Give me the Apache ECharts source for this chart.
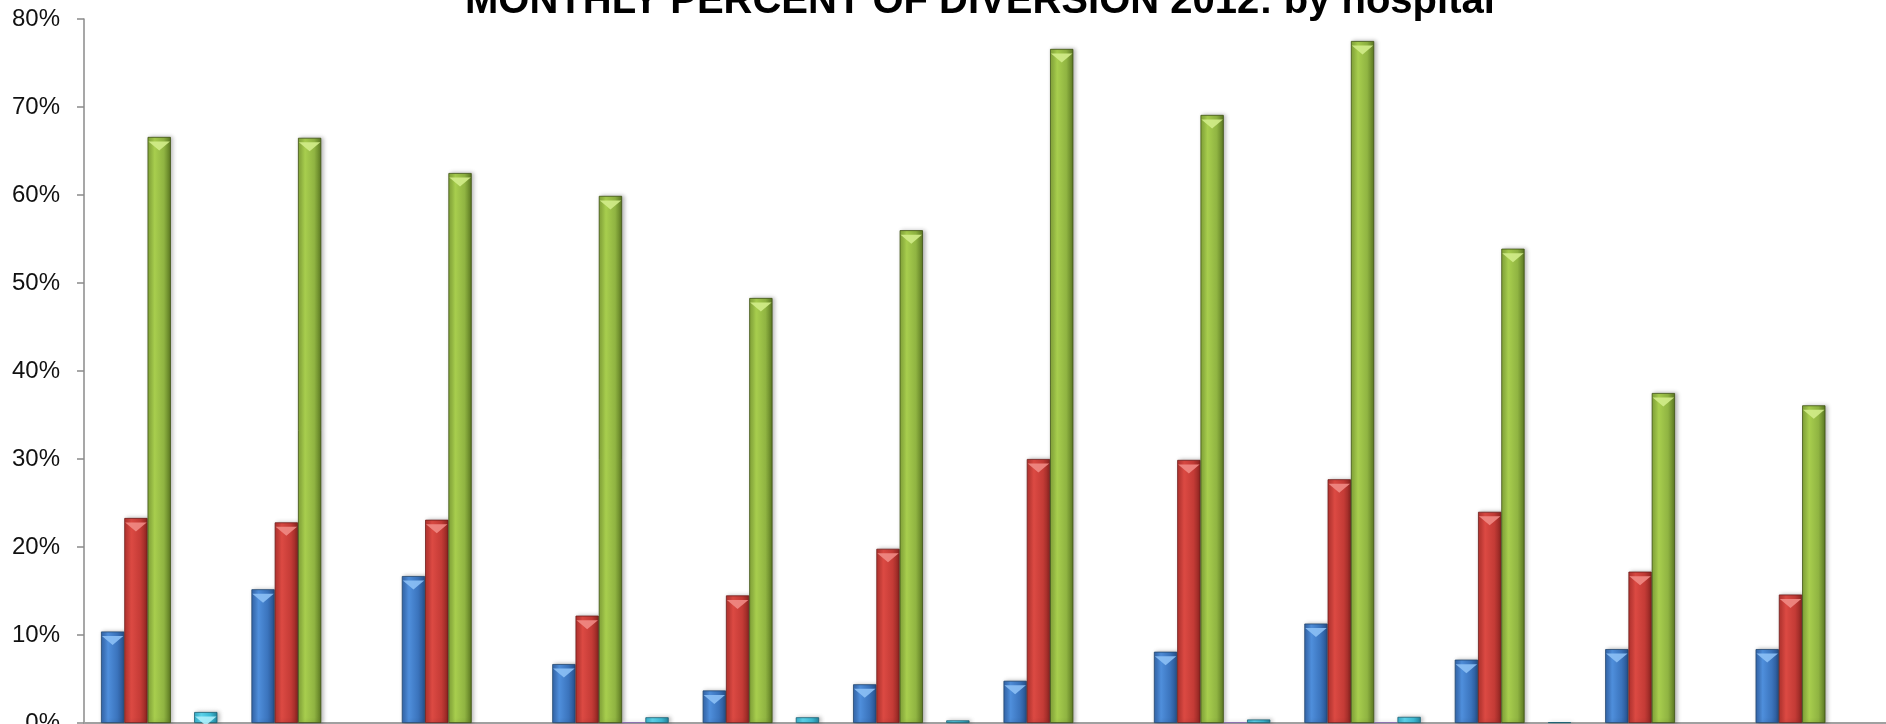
<!DOCTYPE html>
<html>
<head>
<meta charset="utf-8">
<script src="https://cdn.jsdelivr.net/npm/echarts@6/dist/echarts.min.js"></script>
<style>
  html, body { margin: 0; padding: 0; background: #ffffff; }
  #chart { width: 1886px; height: 724px; }
</style>
</head>
<body>
<div id="chart"></div>
<script>
// ---- data (percent) ----
const months = ['Jan', 'Feb', 'Mar', 'Apr', 'May', 'Jun', 'Jul', 'Aug', 'Sep', 'Oct', 'Nov', 'Dec'];
const seriesNames = ['Hospital 1', 'Hospital 2', 'Hospital 3', 'Hospital 4', 'Hospital 5'];
const hospital1 = [10.4, 15.2, 16.7, 6.7, 3.7, 4.4, 4.8, 8.1, 11.3, 7.2, 8.4, 8.4];
const hospital2 = [23.3, 22.8, 23.1, 12.2, 14.5, 19.8, 30.0, 29.9, 27.7, 24.0, 17.2, 14.6];
const hospital3 = [66.6, 66.5, 62.5, 59.9, 48.3, 56.0, 76.6, 69.1, 77.5, 53.9, 37.5, 36.1];
const hospital4 = [0, 0, 0, 0.1, 0, 0, 0, 0.1, 0.1, 0, 0, 0];
const hospital5 = [1.25, 0, 0, 0.65, 0.65, 0.3, 0, 0.4, 0.7, 0.1, 0, 0];
const yTicks = ['0%', '10%', '20%', '30%', '40%', '50%', '60%', '70%', '80%'];

const allData = [hospital1, hospital2, hospital3, hospital4, hospital5];

// bevel-like horizontal gradients
const palettes = [
  { stops: ['#3466ab', '#4f8fdc', '#3b74bd', '#27518c'], border: '#22466f', tip: '#8cc0f5' },
  { stops: ['#b5332f', '#dc4a43', '#c43b36', '#8c2521'], border: '#6e1d1a', tip: '#f08a84' },
  { stops: ['#84a63a', '#a8ce4e', '#90b442', '#5b7822'], border: '#3d5212', tip: '#d2ec8a' },
  { stops: ['#6e5590', '#9277b8', '#7c62a0', '#54406f'], border: '#8a70b0', tip: '#c2aee0' },
  { stops: ['#36b0cb', '#5fd8f0', '#3fbfd9', '#25879f'], border: '#1b6072', tip: '#aef0fb' }
];

function grad(p) {
  return new echarts.graphic.LinearGradient(0, 0, 1, 0, [
    { offset: 0, color: p.stops[0] },
    { offset: 0.3, color: p.stops[1] },
    { offset: 0.7, color: p.stops[2] },
    { offset: 1, color: p.stops[3] }
  ]);
}

const CAT_GAP = '22.6%';

const barSeries = allData.map((d, i) => ({
  name: seriesNames[i],
  type: 'bar',
  data: d.map(v => (v > 0 ? v : '-')),
  barGap: '0%',
  barCategoryGap: CAT_GAP,
  itemStyle: {
    color: grad(palettes[i]),
    borderColor: palettes[i].border,
    borderWidth: 0.8,
    shadowColor: 'rgba(0,0,0,0.28)',
    shadowBlur: 4,
    shadowOffsetX: 2
  },
  z: 2
}));

const tipSeries = allData.map((d, i) => ({
  name: seriesNames[i] + ' tip',
  type: 'pictorialBar',
  data: d.map(v => (v >= 1 ? v : '-')),
  barGap: '0%',
  barCategoryGap: CAT_GAP,
  symbol: 'path://M0,0 L10,0 L5,4 Z',
  symbolPosition: 'end',
  symbolSize: ['92%', 9],
  symbolOffset: [0, '50%'],
  itemStyle: { color: palettes[i].tip, opacity: 0.9 },
  z: 3,
  silent: true
}));

const chart = echarts.init(document.getElementById('chart'), null, { renderer: 'canvas' });
chart.setOption({
  backgroundColor: '#ffffff',
  animation: false,
  title: {
    text: 'MONTHLY PERCENT OF DIVERSION 2012: by hospital',
    left: 460,
    top: -23,
    textStyle: {
      fontFamily: 'Liberation Sans',
      fontWeight: 'bold',
      fontSize: 40,
      color: '#000000'
    }
  },
  legend: { show: false },
  grid: { left: 84, top: 19, width: 1805, bottom: 1, containLabel: false, outerBoundsMode: 'none' },
  xAxis: {
    type: 'category',
    data: months,
    axisLine: { show: true, lineStyle: { color: '#a0a0a0', width: 2 } },
    axisTick: { show: false },
    axisLabel: { show: false },
    splitLine: { show: false }
  },
  yAxis: {
    type: 'value',
    min: 0,
    max: 80,
    interval: 10,
    axisLine: { show: true, lineStyle: { color: '#8a8a8a', width: 1.5 } },
    axisTick: { show: true, inside: false, length: 7, lineStyle: { color: '#8a8a8a', width: 1.5 } },
    axisLabel: {
      margin: 24,
      fontFamily: 'Liberation Sans',
      fontSize: 24,
      color: '#111111',
      formatter: function (v) { return yTicks[Math.round(v / 10)]; }
    },
    splitLine: { show: false }
  },
  series: barSeries.concat(tipSeries)
});
</script>
</body>
</html>
